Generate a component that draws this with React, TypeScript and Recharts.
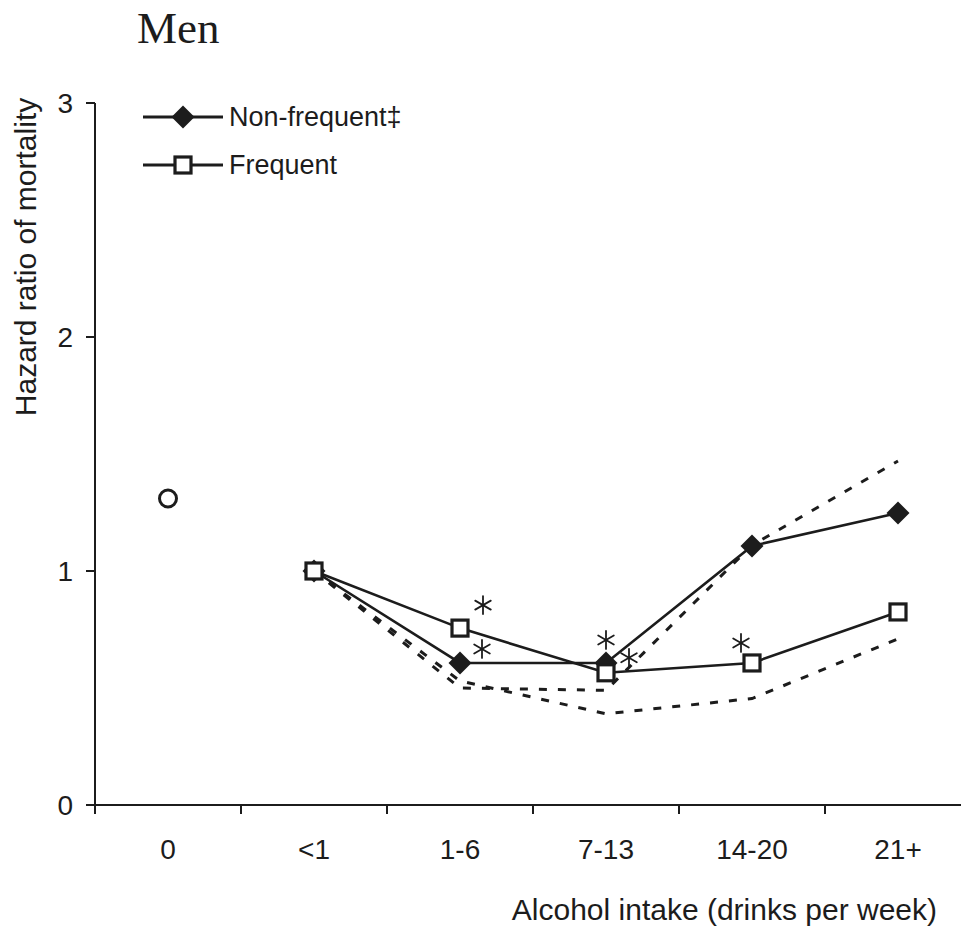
import React from 'react';
import { ComposedChart, Line, XAxis, YAxis, Legend, Label } from 'recharts';

// ---------- data ----------
const categories = ['0', '<1', '1-6', '7-13', '14-20', '21+'];
const nonDrinker: (number | null)[] = [1.31, null, null, null, null, null];
const nonFrequent: (number | null)[] = [null, 1.0, 0.607, 0.607, 1.107, 1.248];
const frequent: (number | null)[] = [null, 1.0, 0.756, 0.565, 0.607, 0.825];
const dashedUpper: (number | null)[] = [null, 1.0, 0.5, 0.49, 1.11, 1.47];
const dashedLower: (number | null)[] = [null, 1.0, 0.53, 0.39, 0.455, 0.71];
const nonFrequentSignificant = [false, false, true, true, false, false];
const frequentSignificant = [false, false, true, true, true, false];
const yTicks = [0, 1, 2, 3];
const legendKeys = ['nonFrequent', 'frequent'] as const;
const seriesNames: Record<string, string> = { nonFrequent: 'Non-frequent‡', frequent: 'Frequent' };
const chartTitle = 'Men';
const yTitle = 'Hazard ratio of mortality';
const xTitle = 'Alcohol intake (drinks per week)';

// ---------- layout / style ----------
const INK = '#1c1c1c';
const SANS = '"Liberation Sans", Arial, Helvetica, sans-serif';
const SERIF = '"Liberation Serif", "Times New Roman", serif';
// asterisk offsets (px) from the marker, per category index
const nonFrequentStarOffset: Record<number, [number, number]> = { 2: [22, -14], 3: [0, -23] };
const frequentStarOffset: Record<number, [number, number]> = { 2: [23, -23], 3: [23, -15], 4: [-11, -20] };

const data = categories.map((c, i) => ({
  x: i,
  label: c,
  zero: nonDrinker[i],
  nonFrequent: nonFrequent[i],
  frequent: frequent[i],
  upper: dashedUpper[i],
  lower: dashedLower[i],
}));

const xTicks = categories.flatMap((_, i) => [i - 0.5, i]);

const Diamond = ({ cx, cy, r = 11.5 }: { cx: number; cy: number; r?: number }) => (
  <path d={`M${cx},${cy - r}L${cx + r},${cy}L${cx},${cy + r}L${cx - r},${cy}Z`} fill={INK} />
);
const Square = ({ cx, cy, s = 16 }: { cx: number; cy: number; s?: number }) => (
  <rect x={cx - s / 2} y={cy - s / 2} width={s} height={s} fill="#fff" stroke={INK} strokeWidth={3.2} />
);
const Asterisk = ({ cx, cy, r = 9 }: { cx: number; cy: number; r?: number }) => {
  const angles = [90, 30, 150];
  return (
    <g stroke={INK} strokeWidth={1.8} strokeLinecap="round">
      {angles.map((a) => {
        const rad = (a * Math.PI) / 180;
        const dx = Math.cos(rad) * r;
        const dy = Math.sin(rad) * r;
        return <line key={a} x1={cx - dx} y1={cy - dy} x2={cx + dx} y2={cy + dy} />;
      })}
    </g>
  );
};

const makeDot = (kind: 'diamond' | 'square') => (props: any) => {
  const { cx, cy, index } = props;
  if (cx == null || cy == null || props.value == null) return <g key={`d-${kind}-${index}`} />;
  return (
    <g key={`d-${kind}-${index}`}>
      {kind === 'diamond' ? <Diamond cx={cx} cy={cy} /> : <Square cx={cx} cy={cy} />}
    </g>
  );
};

const makeStars = (sig: boolean[], offsets: Record<number, [number, number]>, id: string) => (props: any) => {
  const { cx, cy, index } = props;
  if (cx == null || cy == null || !sig[index]) return <g key={`s-${id}-${index}`} />;
  const [dx, dy] = offsets[index] || [0, -20];
  return (
    <g key={`s-${id}-${index}`}>
      <Asterisk cx={cx + dx} cy={cy + dy} />
    </g>
  );
};

const circleDot = (props: any) => {
  const { cx, cy, index } = props;
  if (cx == null || cy == null || props.value == null) return <g key={`c-${index}`} />;
  return <circle key={`c-${index}`} cx={cx} cy={cy} r={8.5} fill="#fff" stroke={INK} strokeWidth={3} />;
};

const XTick = (props: any) => {
  const { x, y, payload } = props;
  const v = payload.value as number;
  if (Number.isInteger(v)) {
    return (
      <text x={x} y={y + 54} textAnchor="middle" fontFamily={SANS} fontSize={28} fill={INK}>
        {categories[v]}
      </text>
    );
  }
  return <line x1={x} y1={y} x2={x} y2={y + 9} stroke={INK} strokeWidth={2} />;
};

const renderLegend = () => (
  <div style={{ display: 'flex', flexDirection: 'column', fontFamily: SANS, fontSize: 27, color: INK }}>
    {legendKeys.map((k) => (
      <div key={k} style={{ display: 'flex', alignItems: 'center', height: 48 }}>
        <svg width={80} height={30} style={{ display: 'block' }}>
          <line x1={0} y1={15} x2={80} y2={15} stroke={INK} strokeWidth={2.8} />
          {k === 'nonFrequent' ? <Diamond cx={40} cy={15} /> : <Square cx={40} cy={15} />}
        </svg>
        <span style={{ marginLeft: 6, lineHeight: '30px', whiteSpace: 'nowrap' }}>{seriesNames[k]}</span>
      </div>
    ))}
  </div>
);

export default function App() {
  return (
    <div style={{ position: 'absolute', left: 0, top: 0, width: 961, height: 930, background: '#fff' }}>
      <div
        style={{
          position: 'absolute',
          left: 137,
          top: 6,
          fontFamily: SERIF,
          fontSize: 45,
          lineHeight: '45px',
          color: INK,
          zIndex: 2,
        }}
      >
        {chartTitle}
      </div>
      <ComposedChart
        width={961}
        height={930}
        data={data}
        margin={{ top: 103, right: -10, bottom: 65, left: 0 }}
      >
        <XAxis
          dataKey="x"
          type="number"
          domain={[-0.5, 5.5]}
          ticks={xTicks}
          interval={0}
          tickLine={false}
          tickSize={0}
          tickMargin={0}
          tick={<XTick />}
          axisLine={{ stroke: INK, strokeWidth: 2 }}
          height={60}
        >
          <Label
            content={() => (
              <text x={937} y={920} textAnchor="end" fontFamily={SANS} fontSize={30} fill={INK}>
                {xTitle}
              </text>
            )}
          />
        </XAxis>
        <YAxis
          type="number"
          domain={[0, 3]}
          ticks={yTicks}
          interval={0}
          width={95}
          tickSize={9}
          tickMargin={13}
          tickLine={{ stroke: INK, strokeWidth: 2 }}
          axisLine={{ stroke: INK, strokeWidth: 2 }}
          tick={{ fontFamily: SANS, fontSize: 28, fill: INK }}
        >
          <Label
            content={() => (
              <text
                x={36}
                y={257}
                transform="rotate(-90 36 257)"
                textAnchor="middle"
                fontFamily={SANS}
                fontSize={30}
                fill={INK}
              >
                {yTitle}
              </text>
            )}
          />
        </YAxis>
        <Legend
          content={renderLegend}
          layout="vertical"
          align="center"
          verticalAlign="middle"
          wrapperStyle={{ left: 143, top: 93, width: 320, height: 96 }}
        />
        <Line
          dataKey="upper"
          stroke={INK}
          strokeWidth={3}
          strokeDasharray="8 11"
          dot={false}
          activeDot={false}
          legendType="none"
          isAnimationActive={false}
        />
        <Line
          dataKey="lower"
          stroke={INK}
          strokeWidth={3}
          strokeDasharray="8 11"
          dot={false}
          activeDot={false}
          legendType="none"
          isAnimationActive={false}
        />
        <Line
          dataKey="zero"
          stroke="none"
          dot={circleDot}
          activeDot={false}
          legendType="none"
          isAnimationActive={false}
        />
        <Line
          dataKey="nonFrequent"
          name={seriesNames.nonFrequent}
          stroke={INK}
          strokeWidth={2.6}
          dot={makeDot('diamond')}
          activeDot={false}
          isAnimationActive={false}
        />
        <Line
          dataKey="frequent"
          name={seriesNames.frequent}
          stroke={INK}
          strokeWidth={2.6}
          dot={makeDot('square')}
          activeDot={false}
          isAnimationActive={false}
        />
        <Line
          dataKey="nonFrequent"
          stroke="none"
          dot={makeStars(nonFrequentSignificant, nonFrequentStarOffset, 'nf')}
          activeDot={false}
          legendType="none"
          isAnimationActive={false}
        />
        <Line
          dataKey="frequent"
          stroke="none"
          dot={makeStars(frequentSignificant, frequentStarOffset, 'f')}
          activeDot={false}
          legendType="none"
          isAnimationActive={false}
        />
      </ComposedChart>
    </div>
  );
}
